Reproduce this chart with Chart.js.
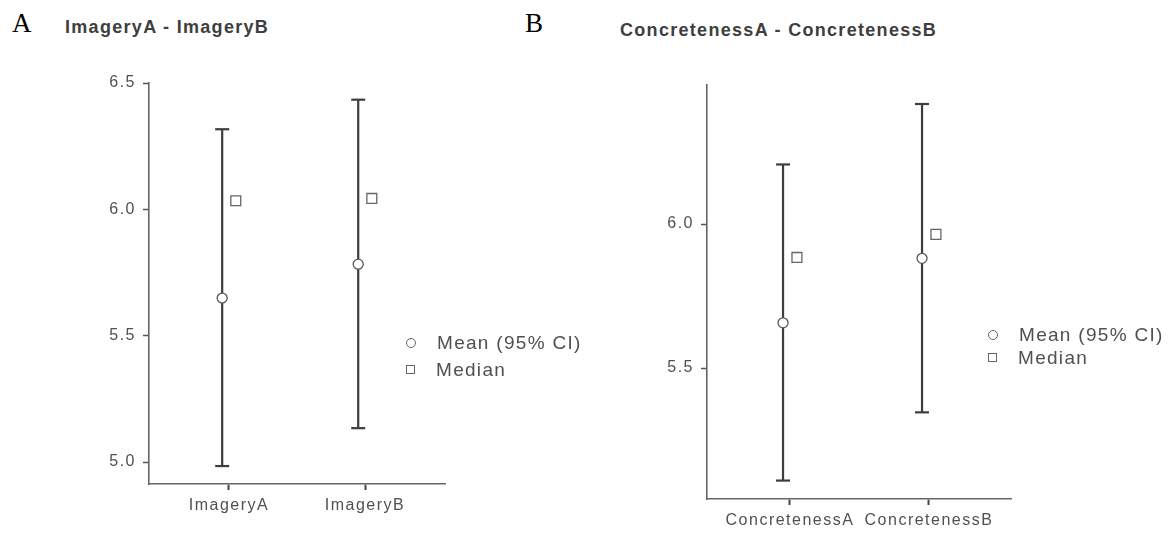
<!DOCTYPE html>
<html>
<head>
<meta charset="utf-8">
<script src="https://cdn.jsdelivr.net/npm/chart.js@4"></script>
<style>
  body { margin: 0; background: #fff; width: 1174px; height: 534px; position: relative; overflow: hidden; }
  .panel { position: absolute; top: 0; width: 587px; height: 534px; }
  .tag { position: absolute; font-family: 'Liberation Serif', serif; font-size: 27px; color: #000; line-height: 1; }
  .title { position: absolute; font-family: 'Liberation Sans', Arial, sans-serif; font-weight: bold; font-size: 18px; letter-spacing: 1.3px; color: #3e3e3e; line-height: 1; white-space: nowrap; }
  .legend { position: absolute; font-family: 'Liberation Sans', Arial, sans-serif; font-size: 19px; letter-spacing: 1.3px; color: #505050; }
  .legend .row { display: flex; align-items: center; white-space: nowrap; }
  .legend .mk { display: inline-block; box-sizing: border-box; border: 1.3px solid #666; background: #fff; margin-right: 21px; }
  .legend .circle { width: 10px; height: 10px; border-radius: 50%; }
  .legend .square { width: 9px; height: 9px; }
</style>
</head>
<body>
<div class="tag" style="left:12px; top:10px;">A</div>
<div class="title" style="left:65px; top:18px;">ImageryA - ImageryB</div>
<div class="tag" style="left:525px; top:10px;">B</div>
<div class="title" style="left:620px; top:21px;">ConcretenessA - ConcretenessB</div>

<div class="panel" style="left:0;"><canvas id="chartA"></canvas></div>
<div class="panel" style="left:587px;"><canvas id="chartB"></canvas></div>

<div class="legend" id="legendA" style="left:406px; top:329px;"></div>
<div class="legend" id="legendB" style="left:988px; top:323px;"></div>

<script>
// ---- data ----
const categoriesA = ['ImageryA', 'ImageryB'];
const meanA = [5.649, 5.783];
const lowerA = [4.984, 5.134];
const upperA = [6.317, 6.434];
const medianA = [6.034, 6.043];
const yTicksA = [5.0, 5.5, 6.0, 6.5];

const categoriesB = ['ConcretenessA', 'ConcretenessB'];
const meanB = [5.657, 5.881];
const lowerB = [5.109, 5.346];
const upperB = [6.207, 6.417];
const medianB = [5.884, 5.964];
const yTicksB = [5.5, 6.0];

const legendLabels = ['Mean (95% CI)', 'Median'];

// spacing tweak for the tick labels (the original uses a wide-tracked font)
const letterSpacingPlugin = {
    id: 'letterSpacing',
    beforeUpdate: function (chart) { chart.ctx.letterSpacing = '1.5px'; },
    beforeDraw: function (chart) { chart.ctx.letterSpacing = '1.5px'; }
};

function buildChart(canvasId, cats, mean, lower, upper, median, yTicks, opts) {
    const dodge = 0.05;
    const datasets = [];

    // error bars: a two-point line per category, caps drawn as 'line' points
    cats.forEach(function (c, i) {
        datasets.push({
            type: 'line',
            data: [{ x: i - dodge, y: lower[i] }, { x: i - dodge, y: upper[i] }],
            borderColor: '#3d3d3d',
            borderWidth: 2.2,
            pointStyle: 'line',
            pointRadius: 7,
            pointBorderWidth: 2.2,
            pointBorderColor: '#3d3d3d',
            order: 3
        });
    });

    datasets.push({
        type: 'scatter',
        label: legendLabels[1],
        data: median.map(function (v, i) { return { x: i + dodge, y: v }; }),
        pointStyle: 'rect',
        pointRadius: 7,
        pointBorderWidth: 1.3,
        pointBorderColor: '#666',
        pointBackgroundColor: '#fff',
        order: 2
    });

    datasets.push({
        type: 'scatter',
        label: legendLabels[0],
        data: mean.map(function (v, i) { return { x: i - dodge, y: v }; }),
        pointStyle: 'circle',
        pointRadius: 5,
        pointBorderWidth: 1.3,
        pointBorderColor: '#555',
        pointBackgroundColor: '#fff',
        order: 1
    });

    const tickFont = { family: 'Liberation Sans', size: 16 };

    new Chart(document.getElementById(canvasId), {
        type: 'scatter',
        data: { datasets: datasets },
        plugins: [letterSpacingPlugin],
        options: {
            responsive: true,
            maintainAspectRatio: false,
            animation: false,
            events: [],
            layout: { padding: { left: 0, top: opts.top, right: opts.right, bottom: 0 } },
            plugins: { legend: { display: false }, tooltip: { enabled: false } },
            elements: { line: { tension: 0 } },
            scales: {
                x: {
                    type: 'linear',
                    min: opts.xMin,
                    max: opts.xMax,
                    afterFit: function (scale) { scale.height = opts.xHeight; },
                    afterBuildTicks: function (scale) {
                        scale.ticks = cats.map(function (c, i) { return { value: i }; });
                    },
                    ticks: {
                        autoSkip: false,
                        maxRotation: 0,
                        padding: 6,
                        color: '#505050',
                        font: tickFont,
                        callback: function (v) { return cats[v]; }
                    },
                    grid: { drawOnChartArea: false, drawTicks: true, tickLength: 6, tickWidth: 2, tickColor: '#444' },
                    border: { display: true, color: '#666', width: 1.6 }
                },
                y: {
                    type: 'linear',
                    min: opts.yMin,
                    max: opts.yMax,
                    afterFit: function (scale) { scale.width = opts.yWidth; },
                    afterBuildTicks: function (scale) {
                        scale.ticks = yTicks.map(function (v) { return { value: v }; });
                    },
                    ticks: {
                        padding: 7,
                        color: '#505050',
                        font: tickFont,
                        callback: function (v) { return Number(v).toFixed(1); }
                    },
                    grid: { drawOnChartArea: false, drawTicks: true, tickLength: 6, tickWidth: 1.5, tickColor: '#555' },
                    border: { display: true, color: '#666', width: 1.6 }
                }
            }
        }
    });
}

function buildLegend(id, rowHeight) {
    const box = document.getElementById(id);
    const shapes = ['circle', 'square'];
    legendLabels.forEach(function (label, i) {
        const row = document.createElement('div');
        row.className = 'row';
        row.style.height = rowHeight + 'px';
        const mk = document.createElement('span');
        mk.className = 'mk ' + shapes[i];
        row.appendChild(mk);
        row.appendChild(document.createTextNode(label));
        box.appendChild(row);
    });
}

document.addEventListener('DOMContentLoaded', function () {
    buildChart('chartA', categoriesA, meanA, lowerA, upperA, medianA, yTicksA, {
        top: 83, right: 142, yWidth: 149, xHeight: 50,
        xMin: -0.588, xMax: 1.588, yMin: 4.913, yMax: 6.5
    });
    buildChart('chartB', categoriesB, meanB, lowerB, upperB, medianB, yTicksB, {
        top: 85, right: 163, yWidth: 120, xHeight: 35,
        xMin: -0.597, xMax: 1.59, yMin: 5.045, yMax: 6.483
    });
    buildLegend('legendA', 27);
    buildLegend('legendB', 23);
});
</script>
</body>
</html>
